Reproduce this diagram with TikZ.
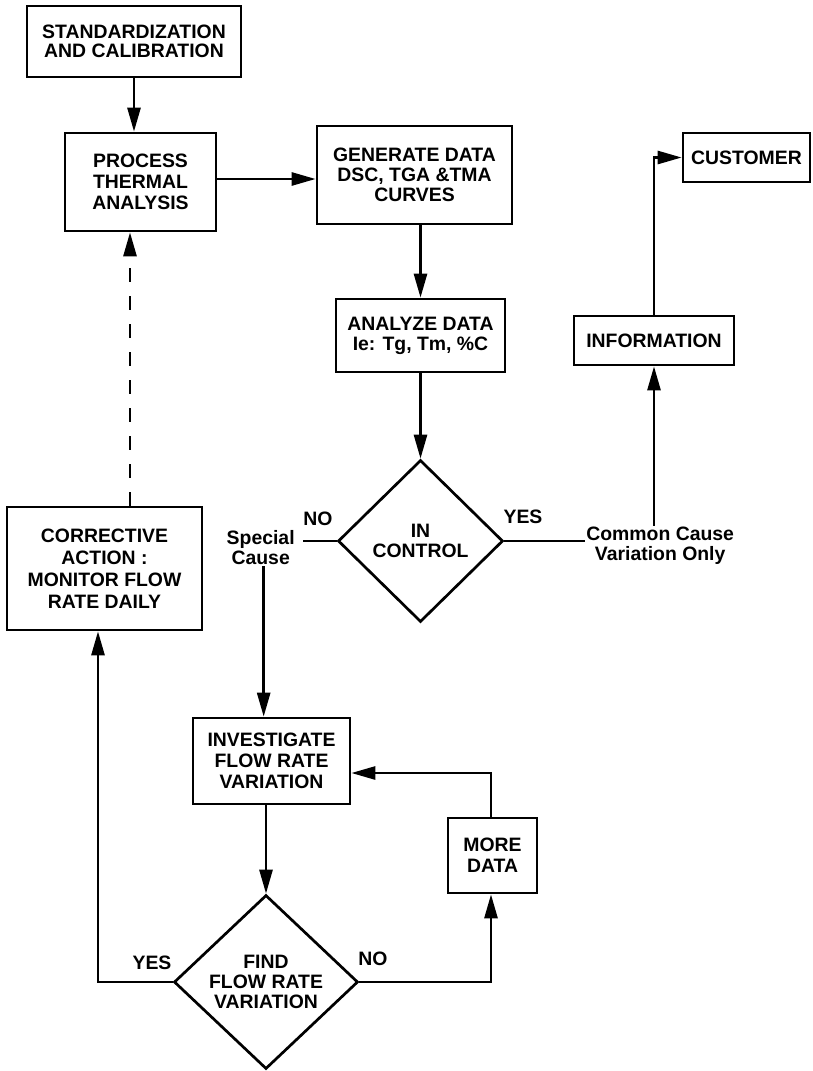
\documentclass[tikz,border=0pt]{standalone}
\usepackage{fontspec}
\setmainfont{Liberation Sans}
\usetikzlibrary{arrows.meta,shapes.geometric}
\begin{document}
\begin{tikzpicture}[x=1pt,y=-1pt,
  font=\bfseries\fontsize{19.4}{21}\selectfont,
  line width=2.7pt,
  box/.style={draw, rectangle, align=center, inner sep=0pt},
  dia/.style={draw, diamond, aspect=1, align=center, inner sep=0pt},
  arr/.style={-{Triangle[length=24pt,width=13pt]}},
  lbl/.style={align=center, inner sep=0pt},
]
\useasboundingbox (0,0) rectangle (812,1071);

\node[box, minimum width=214pt, minimum height=71pt, font=\bfseries\fontsize{19.4}{19.5}\selectfont] (std) at (134,41.5) {STANDARDIZATION\\AND CALIBRATION};
\node[box, minimum width=151pt, minimum height=98pt] (proc) at (140.5,182) {PROCESS\\THERMAL\\ANALYSIS};
\node[box, minimum width=195pt, minimum height=98pt, font=\bfseries\fontsize{19.4}{20}\selectfont] (gen) at (414.5,175) {GENERATE DATA\\DSC, TGA \&TMA\\CURVES};
\node[box, minimum width=169pt, minimum height=73pt, font=\bfseries\fontsize{19.4}{20}\selectfont] (ana) at (420.5,335.5) {ANALYZE DATA\\Ie: Tg, Tm, \%C};
\node[dia, minimum width=165pt, minimum height=162pt, font=\bfseries\fontsize{19.4}{20}\selectfont] (ctrl) at (420.5,541) {IN\\CONTROL};
\node[box, minimum width=160pt, minimum height=49pt] (info) at (654,340.5) {INFORMATION};
\node[box, minimum width=127pt, minimum height=49pt] (cust) at (746.5,157.5) {CUSTOMER};
\node[lbl, anchor=east, font=\bfseries\fontsize{19.4}{20}\selectfont] (sc) at (296,548) {Special\\Cause};
\node[lbl, anchor=west, font=\bfseries\fontsize{19.4}{20}\selectfont] (cc) at (585,546) {Common Cause\\Variation Only};
\node[lbl] (no1) at (318,519) {NO};
\node[lbl] (yes1) at (523,517) {YES};
\node[box, minimum width=195pt, minimum height=123pt, font=\bfseries\fontsize{19.4}{22}\selectfont] (corr) at (104.5,568.5) {CORRECTIVE\\ACTION :\\MONITOR FLOW\\RATE DAILY};
\node[box, minimum width=157pt, minimum height=86pt] (inv) at (271.5,761) {INVESTIGATE\\FLOW RATE\\VARIATION};
\node[dia, minimum width=184pt, minimum height=174pt, font=\bfseries\fontsize{19.4}{20}\selectfont] (find) at (266,982) {FIND\\FLOW RATE\\VARIATION};
\node[lbl] (yes2) at (152,963) {YES};
\node[lbl] (no2) at (373,959) {NO};
\node[box, minimum width=89pt, minimum height=75pt] (more) at (492.5,855.5) {MORE\\DATA};

\draw[arr] (std.south) -- (std.south |- proc.north);
\draw[arr] ([yshift=3pt]proc.east) -- ([yshift=3pt]proc.east -| gen.west);
\draw[arr] (gen.south -| ana.north) -- (ana.north);
\draw[arr] (ana.south) -- (ctrl.north);
\draw (ctrl.east) -- (ctrl.east -| cc.west);
\draw[arr] (cc.north -| info.south) -- (info.south);
\draw[arr] (info.north) |- (cust.west);
\draw (ctrl.west) -- ([xshift=7pt]ctrl.west -| sc.east);
\draw[arr] ([xshift=3pt]sc.south) -- ([xshift=3pt]sc.south |- inv.north);
\draw[arr] ([xshift=-5.5pt]inv.south) -- (find.north);
\draw[arr] (find.west) -| ([xshift=-6.5pt]corr.south);
\draw[arr, dash pattern=on 14pt off 14pt] ([xshift=25.5pt]corr.north) -- ([xshift=25.5pt]corr.north |- proc.south);
\draw[arr] (find.east) -| ([xshift=-1.5pt]more.south);
\draw[arr] ([xshift=-1.5pt]more.north) |- ([yshift=-12pt]inv.east);
\end{tikzpicture}
\end{document}
